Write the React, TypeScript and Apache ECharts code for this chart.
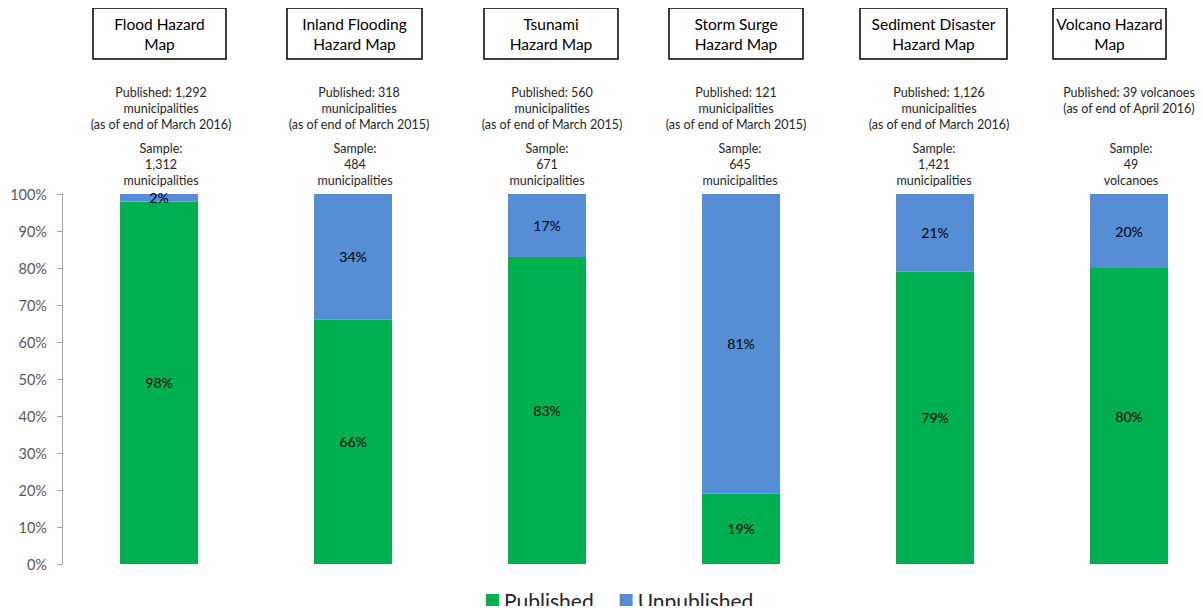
import React, { useEffect, useRef } from "react";
import * as echarts from "echarts";

const categories = [
  "Flood Hazard Map",
  "Inland Flooding Hazard Map",
  "Tsunami Hazard Map",
  "Storm Surge Hazard Map",
  "Sediment Disaster Hazard Map",
  "Volcano Hazard Map",
];
const titles = [
  "Flood Hazard\nMap",
  "Inland Flooding\nHazard Map",
  "Tsunami\nHazard Map",
  "Storm Surge\nHazard Map",
  "Sediment Disaster\nHazard Map",
  "Volcano Hazard\nMap",
];
const publishedNotes = [
  "Published: 1,292\nmunicipalities\n(as of end of March 2016)",
  "Published: 318\nmunicipalities\n(as of end of March 2015)",
  "Published: 560\nmunicipalities\n(as of end of March 2015)",
  "Published: 121\nmunicipalities\n(as of end of March 2015)",
  "Published: 1,126\nmunicipalities\n(as of end of March 2016)",
  "Published: 39 volcanoes\n(as of end of April 2016)",
];
const sampleNotes = [
  "Sample:\n1,312\nmunicipalities",
  "Sample:\n484\nmunicipalities",
  "Sample:\n671\nmunicipalities",
  "Sample:\n645\nmunicipalities",
  "Sample:\n1,421\nmunicipalities",
  "Sample:\n49\nvolcanoes",
];
const published = [98, 66, 83, 19, 79, 80];
const unpublished = [2, 34, 17, 81, 21, 20];

// layout (pixels)
const boxX = [
  [93, 226],
  [287, 422],
  [484, 618],
  [669, 803],
  [860, 1007],
  [1053, 1166],
];
const pubX = [161, 359, 552, 736, 939, 1129];
const sampleX = [161, 355, 547, 740, 934, 1131];

const FONT = "Lato, 'Noto Sans', sans-serif";

export default function App() {
  const ref = useRef<HTMLDivElement>(null);
  useEffect(() => {
    const chart = echarts.init(ref.current!, null, { renderer: "svg" });
    const graphics: any[] = [];
    boxX.forEach(([x0, x1], i) => {
      graphics.push({
        type: "rect",
        shape: { x: x0, y: 8, width: x1 - x0, height: 51 },
        style: { fill: "#fff", stroke: "#000", lineWidth: 1.5 },
      });
      graphics.push({
        type: "text",
        x: (x0 + x1) / 2,
        y: 34,
        style: {
          text: titles[i],
          fontFamily: FONT,
          fontSize: 15.5,
          lineHeight: 20,
          fill: "#000",
          align: "center",
          verticalAlign: "middle",
        },
      });
      graphics.push({
        type: "text",
        x: pubX[i],
        y: 84,
        style: {
          text: publishedNotes[i],
          fontFamily: FONT,
          fontSize: 12.5,
          lineHeight: 16,
          fill: "#262626",
          align: "center",
          verticalAlign: "top",
        },
      });
      graphics.push({
        type: "text",
        x: sampleX[i],
        y: 140,
        style: {
          text: sampleNotes[i],
          fontFamily: FONT,
          fontSize: 12.5,
          lineHeight: 16,
          fill: "#262626",
          align: "center",
          verticalAlign: "top",
        },
      });
    });

    const labelStyle = {
      show: true,
      position: "inside",
      formatter: "{c}%",
      color: "#000",
      fontFamily: FONT,
      fontSize: 14,
    };

    chart.setOption({
      animation: false,
      grid: { left: 62, top: 194, width: 1164, bottom: 50, containLabel: false },
      legend: {
        top: 585,
        left: 481,
        itemWidth: 13,
        itemHeight: 13,
        itemGap: 26,
        icon: "rect",
        textStyle: { fontFamily: FONT, fontSize: 21, color: "#262626" },
        data: ["Published", "Unpublished"],
      },
      xAxis: {
        type: "category",
        data: categories,
        axisLine: { show: false },
        axisTick: { show: false },
        axisLabel: { show: false },
      },
      yAxis: {
        type: "value",
        min: 0,
        max: 100,
        interval: 10,
        axisLine: { show: true, lineStyle: { color: "#a6a6a6" } },
        axisTick: { show: true, length: 5, lineStyle: { color: "#a6a6a6" } },
        splitLine: { show: false },
        axisLabel: {
          formatter: "{value}%",
          fontFamily: FONT,
          fontSize: 14.5,
          color: "#595959",
          margin: 15,
        },
      },
      series: [
        {
          name: "Published",
          type: "bar",
          stack: "s",
          data: published,
          barWidth: 78,
          itemStyle: { color: "#00b050" },
          label: labelStyle,
        },
        {
          name: "Unpublished",
          type: "bar",
          stack: "s",
          data: unpublished,
          barWidth: 78,
          itemStyle: { color: "#558ed5" },
          label: labelStyle,
        },
      ],
      graphic: graphics,
    });
    return () => chart.dispose();
  }, []);
  return (
    <div style={{ width: 1203, height: 614, margin: -8, overflow: "hidden", position: "relative" }}>
      <div ref={ref} style={{ width: 1240, height: 614 }} />
    </div>
  );
}
